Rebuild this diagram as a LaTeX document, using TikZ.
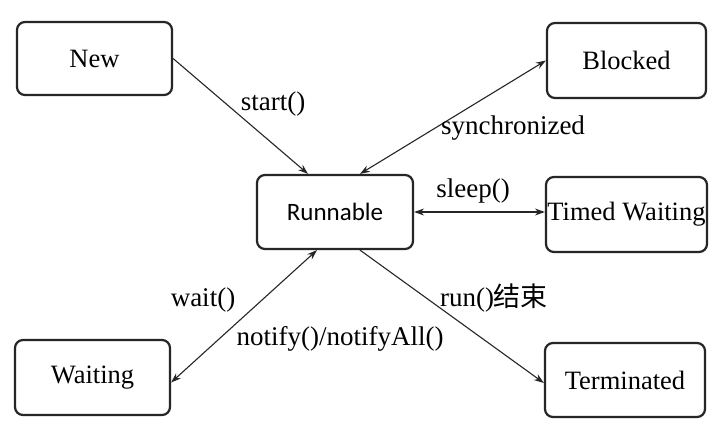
\documentclass[tikz,border=0pt]{standalone}
\usepackage{fontspec}
\setmainfont{Liberation Serif}
\newfontfamily\timesfont{Liberation Serif}
\newfontfamily\runfont{Carlito}
\newfontfamily\cjkfont{Noto Sans CJK SC}
\usetikzlibrary{arrows.meta}
\begin{document}
\begin{tikzpicture}[x=1pt,y=-1pt,
  statebox/.style={draw=black!85, line width=2.2pt, rounded corners=8pt, inner sep=0pt,
    font=\timesfont\fontsize{26.5}{30}\selectfont, text=black},
  lbl/.style={inner sep=0pt, font=\timesfont\fontsize{27}{31}\selectfont, text=black},
  conn/.style={draw=black!85, line width=1.1pt, -{Stealth[length=10pt,width=7pt]}},
  biconn/.style={draw=black!85, line width=1.1pt, {Stealth[length=10pt,width=7pt]}-{Stealth[length=10pt,width=7pt]}}]
\useasboundingbox (0,0) rectangle (720,437);
\fill[white] (0,0) rectangle (720,437);

\node[statebox, minimum width=155pt, minimum height=73pt] (new) at (94.5,58.5) {New};
\node[statebox, minimum width=159pt, minimum height=75pt] (blocked) at (626.5,60.5) {Blocked};
\node[statebox, minimum width=156pt, minimum height=74pt, font=\runfont\fontsize{25}{29}\selectfont] (run) at (335,212) {Runnable};
\node[statebox, minimum width=161pt, minimum height=75pt] (timed) at (626.5,214.5) {Timed Waiting};
\node[statebox, minimum width=155pt, minimum height=75pt] (waiting) at (92.5,377.5) {Waiting};
\node[statebox, minimum width=160pt, minimum height=74pt] (term) at (625,380) {Terminated};

\draw[conn] (new.east) -- ([xshift=-27pt]run.north);
\draw[biconn] ([xshift=25pt]run.north) -- (blocked.west);
\draw[biconn] (run.east) -- (run.east -| timed.west);
\draw[biconn] ([xshift=-18pt]run.south) -- ([yshift=-5pt]waiting.east);
\draw[conn] ([xshift=25pt]run.south) -- ([yshift=-3pt]term.west);

\node[lbl] (lstart) at (273,104) {start()};
\node[lbl] (lsync) at (513,128) {synchronized};
\node[lbl] (lsleep) at (473,191) {sleep()};
\node[lbl] (lwait) at (203,300) {wait()};
\node[lbl] (lnotify) at (340,339) {notify()/notifyAll()};
\node[lbl] (lrun) at (494,298) {run(){\cjkfont 结束}};
\end{tikzpicture}
\end{document}
